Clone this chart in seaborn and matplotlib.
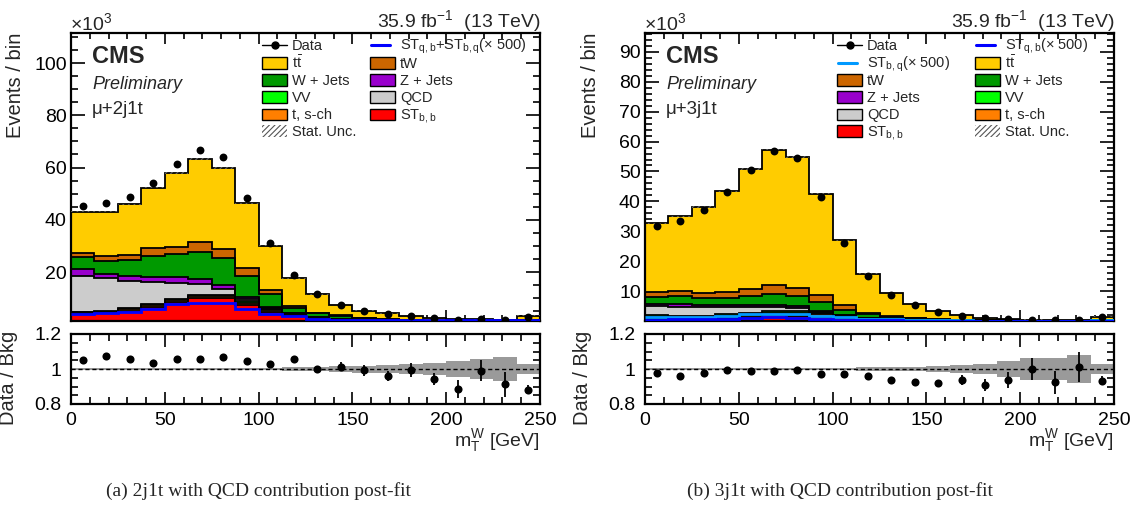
import numpy as np
import matplotlib
matplotlib.use("Agg")
import matplotlib.pyplot as plt
from matplotlib.patches import Rectangle
from matplotlib.lines import Line2D
from matplotlib.ticker import MultipleLocator, FixedLocator
import seaborn as sns

# ---------------- data (events in units of 10^3) ----------------
edges = np.linspace(0, 250, 21)
centers = 0.5 * (edges[:-1] + edges[1:])

# mu + 2j1t
L_stbb = [4.3, 4.4, 5.2, 6.7, 8.7, 10.2, 10.0, 7.3, 4.8, 3.6, 2.1, 1.6, 1.2, 0.9, 0.7, 0.55, 0.45, 0.4, 0.35, 0.7]
L_tsch = [0.3, 0.4, 0.6, 0.6, 0.6, 0.7, 0.8, 0.9, 0.7, 0.4, 0.3, 0.2, 0.15, 0.1, 0.08, 0.06, 0.05, 0.05, 0.04, 0.08]
L_vv = [0.2, 0.3, 0.4, 0.4, 0.3, 0.3, 0.4, 0.6, 0.4, 0.2, 0.2, 0.15, 0.1, 0.1, 0.08, 0.06, 0.05, 0.05, 0.04, 0.08]
L_qcd = [13.8, 12.6, 10.5, 8.4, 6.1, 4.1, 2.2, 0.8, 0.2, 0.05, 0.05, 0.02, 0.02, 0.02, 0.02, 0.01, 0.01, 0.01, 0.01, 0.02]
L_zj = [2.5, 1.6, 1.9, 2.1, 2.3, 1.9, 1.6, 1.0, 0.6, 0.05, 0.05, 0.03, 0.03, 0.03, 0.02, 0.02, 0.01, 0.01, 0.01, 0.02]
L_wj = [4.5, 5.0, 5.9, 8.1, 8.9, 10.6, 10.3, 7.9, 4.9, 2.1, 1.5, 1.2, 0.9, 0.7, 0.55, 0.45, 0.35, 0.33, 0.28, 0.6]
L_tw = [1.8, 2.0, 2.1, 2.8, 2.8, 3.8, 3.4, 2.9, 1.5, 0.6, 0.3, 0.2, 0.15, 0.12, 0.1, 0.08, 0.06, 0.06, 0.05, 0.1]
L_tt = [15.7, 16.8, 19.3, 23.2, 28.3, 31.7, 31.2, 24.9, 17.0, 10.7, 7.0, 4.0, 2.65, 2.23, 1.65, 1.27, 1.02, 0.99, 0.82, 1.7]
L_data = [45.3, 46.4, 48.6, 54.0, 61.3, 66.9, 64.0, 48.5, 31.0, 18.7, 11.5, 7.49, 5.16, 4.04, 3.19, 2.36, 1.77, 1.88, 1.46, 2.91]
L_sig = [3.8, 4.2, 4.6, 5.7, 7.7, 8.3, 8.0, 5.9, 4.0, 3.2, 1.9, 1.8, 1.8, 1.8, 1.8, 1.8, 1.8, 1.8, 1.8, 1.8]
L_band = [0.005, 0.005, 0.005, 0.005, 0.005, 0.005, 0.005, 0.006, 0.007, 0.01, 0.013, 0.017, 0.02, 0.025, 0.028, 0.034, 0.043, 0.055, 0.07, 0.03]
L_rerr = [0.004, 0.004, 0.004, 0.004, 0.004, 0.004, 0.004, 0.004, 0.005, 0.006, 0.008, 0.025, 0.03, 0.028, 0.04, 0.035, 0.05, 0.06, 0.07, 0.025]

# mu + 3j1t
R_stbb = [0.8, 0.8, 0.8, 1.1, 1.4, 1.9, 1.8, 1.5, 0.9, 0.5, 0.3, 0.2, 0.12, 0.08, 0.05, 0.04, 0.03, 0.03, 0.02, 0.06]
R_tsch = [0.6, 0.5, 0.5, 0.6, 0.7, 0.8, 0.8, 0.7, 0.5, 0.3, 0.2, 0.12, 0.08, 0.05, 0.03, 0.02, 0.015, 0.015, 0.01, 0.04]
R_vv = [0.5, 0.4, 0.4, 0.5, 0.5, 0.6, 0.6, 0.5, 0.4, 0.2, 0.1, 0.08, 0.05, 0.03, 0.02, 0.02, 0.015, 0.015, 0.01, 0.03]
R_qcd = [3.0, 3.0, 3.0, 2.5, 2.1, 1.4, 1.2, 0.2, 0.1, 0.05, 0.03, 0.02, 0.01, 0.01, 0.005, 0.005, 0.003, 0.003, 0.003, 0.01]
R_zj = [0.8, 0.9, 0.7, 0.6, 0.6, 0.6, 0.5, 0.3, 0.2, 0.1, 0.05, 0.03, 0.02, 0.01, 0.005, 0.005, 0.002, 0.002, 0.002, 0.01]
R_wj = [2.3, 2.6, 2.2, 2.5, 2.9, 3.8, 3.3, 3.1, 1.7, 1.2, 0.7, 0.45, 0.3, 0.2, 0.12, 0.09, 0.06, 0.05, 0.04, 0.2]
R_tw = [1.8, 1.8, 1.7, 1.9, 2.6, 2.8, 2.8, 2.3, 1.4, 0.45, 0.25, 0.15, 0.1, 0.06, 0.04, 0.03, 0.02, 0.02, 0.015, 0.06]
R_tt = [22.9, 25.0, 28.8, 33.7, 40.1, 45.4, 43.8, 34.0, 21.8, 13.0, 7.67, 4.55, 2.62, 1.46, 0.83, 0.59, 0.355, 0.32, 0.25, 1.09]
R_data = [31.9, 33.6, 37.2, 43.2, 50.4, 56.7, 54.5, 41.4, 26.2, 15.2, 8.72, 5.2, 3.03, 1.78, 1.0, 0.75, 0.5, 0.42, 0.354, 1.4]
R_sig_qb = [0.5, 0.55, 0.6, 0.8, 1.0, 1.2, 1.1, 0.8, 0.5, 0.3, 0.2, 0.15, 0.1, 0.07, 0.05, 0.04, 0.03, 0.03, 0.02, 0.05]
R_sig_bq = [1.3, 1.4, 1.5, 1.8, 2.2, 2.5, 2.4, 1.8, 1.2, 0.8, 0.55, 0.4, 0.3, 0.2, 0.15, 0.12, 0.1, 0.09, 0.08, 0.2]
R_band = [0.005, 0.005, 0.005, 0.005, 0.005, 0.005, 0.005, 0.006, 0.007, 0.009, 0.011, 0.014, 0.018, 0.022, 0.03, 0.043, 0.065, 0.065, 0.082, 0.03]
R_rerr = [0.004, 0.004, 0.004, 0.004, 0.004, 0.004, 0.004, 0.004, 0.004, 0.006, 0.01, 0.012, 0.02, 0.03, 0.034, 0.048, 0.065, 0.065, 0.085, 0.025]

# ---------------- style ----------------
sns.set_style("ticks")
plt.rcParams["font.family"] = ["Liberation Sans", "DejaVu Sans"]
plt.rcParams["mathtext.fontset"] = "custom"
plt.rcParams["mathtext.rm"] = "Liberation Sans"
plt.rcParams["mathtext.it"] = "Liberation Sans:italic"
plt.rcParams["mathtext.bf"] = "Liberation Sans:bold"
plt.rcParams["hatch.linewidth"] = 0.8

C = {
    "tt": "#ffcc00", "tw": "#cc6600", "wj": "#009900", "zj": "#9900cc",
    "vv": "#00ff00", "qcd": "#cccccc", "tsch": "#ff7f00", "stbb": "#ff0000",
    "sig": "#0000ff", "sig2": "#0099ff",
}

W, H = 1138, 514
fig = plt.figure(figsize=(W / 100, H / 100), dpi=100)


def fx(x):
    return x / W


def fy(y):
    return 1 - y / H


def add_ax(x0, y0, x1, y1):
    return fig.add_axes([fx(x0), fy(y1), (x1 - x0) / W, (y1 - y0) / H])


def stepy(v):
    v = np.asarray(v, float)
    return np.append(v, v[-1])


def style_axis(ax, xmaj=8, xmin=4, ymaj=10, ymin=5):
    for s in ax.spines.values():
        s.set_linewidth(1.6)
        s.set_color("black")
    ax.tick_params(which="both", direction="in", top=True, right=True,
                   width=1.2, labelsize=14, colors="black")
    ax.tick_params(axis="x", which="major", length=xmaj)
    ax.tick_params(axis="x", which="minor", length=xmin)
    ax.tick_params(axis="y", which="major", length=ymaj)
    ax.tick_params(axis="y", which="minor", length=ymin)
    ax.xaxis.set_major_locator(MultipleLocator(50))
    ax.xaxis.set_minor_locator(MultipleLocator(10))
    ax.set_xlim(0, 250)


LEG_FS = 10.5


def legend_entry(kind, hx, y, color, label):
    if kind == "patch":
        fig.add_artist(Rectangle((fx(hx), fy(y + 5.5)), 25 / W, 11 / H, transform=fig.transFigure,
                                 facecolor=color, edgecolor="black", lw=1.0))
    elif kind == "hatch":
        fig.add_artist(Rectangle((fx(hx), fy(y + 5.5)), 25 / W, 11 / H, transform=fig.transFigure,
                                 facecolor="white", edgecolor="#555555", lw=0, hatch="//////"))
    elif kind == "data":
        fig.add_artist(Line2D([fx(hx), fx(hx + 25)], [fy(y), fy(y)], transform=fig.transFigure,
                              color="black", lw=1.0))
        fig.add_artist(Line2D([fx(hx + 12.5)], [fy(y)], transform=fig.transFigure, marker="o",
                              ms=5, color="black", lw=0))
    elif kind == "line":
        fig.add_artist(Line2D([fx(hx + 1), fx(hx + 20)], [fy(y), fy(y)], transform=fig.transFigure,
                              color=color, lw=2.2))
    fig.text(fx(hx + 30), fy(y + 5), label, fontsize=LEG_FS, ha="left", va="baseline")


def panel(x0, x1, comps, data, sig_lines, band, rerr, ylim, ymajor, yminor, region, legend):
    ax = add_ax(x0, 33, x1, 321)
    rx = add_ax(x0, 334, x1, 404)
    cum = np.zeros(len(centers))
    tops = []
    for vals, col in comps:
        top = cum + np.asarray(vals, float)
        ax.stairs(top, edges, baseline=cum, fill=True, color=col, lw=0, zorder=2)
        tops.append(top)
        cum = top
    for top in tops:
        ax.stairs(top, edges, baseline=None, fill=False, color="black", lw=1.3, zorder=3)
    tot = cum
    band = np.asarray(band)
    unc = band * tot
    ax.fill_between(edges, stepy(tot - unc), stepy(tot + unc), step="post", facecolor="none",
                    edgecolor="#666666", hatch="//////", lw=0, zorder=4)
    for vals, col in sig_lines:
        ax.stairs(vals, edges, baseline=None, fill=False, color=col, lw=2.0, zorder=5)
    sns.scatterplot(x=centers, y=data, ax=ax, color="black", s=32, linewidth=0, zorder=10, legend=False)
    style_axis(ax)
    ax.set_ylim(*ylim)
    ax.yaxis.set_major_locator(FixedLocator(ymajor))
    ax.yaxis.set_minor_locator(MultipleLocator(yminor))
    ax.set_yticklabels([str(v) for v in ymajor])
    ax.tick_params(axis="x", labelbottom=False)
    ax.tick_params(axis="y", pad=3)
    ax.set_xlabel("")
    ax.set_ylabel("")

    # ratio
    ratio = np.asarray(data) / tot
    rx.fill_between(edges, stepy(1 - band), stepy(1 + band), step="post", color="#9a9a9a", lw=0, zorder=1)
    rx.axhline(1.0, ls="--", color="black", lw=1.0, zorder=2, dashes=(3, 2))
    rx.errorbar(centers, ratio, yerr=rerr, fmt="none", ecolor="black", elinewidth=1.3, zorder=3)
    sns.scatterplot(x=centers, y=ratio, ax=rx, color="black", s=34, linewidth=0, zorder=10, legend=False)
    style_axis(rx, xmaj=9, xmin=5, ymaj=10, ymin=5)
    rx.set_ylim(0.8, 1.2)
    rx.yaxis.set_major_locator(FixedLocator([0.8, 1.0, 1.2]))
    rx.yaxis.set_minor_locator(MultipleLocator(0.05))
    rx.set_yticklabels(["0.8", "1", "1.2"])
    rx.tick_params(axis="y", pad=7)
    rx.tick_params(axis="x", pad=6)
    rx.set_xlabel("")
    rx.set_ylabel("")

    # texts
    fig.text(fx(x0 - 1), fy(30), r"$\times$10$^{3}$", fontsize=14, ha="left", va="baseline")
    fig.text(fx(x1), fy(27), r"35.9 fb$^{-1}$  (13 TeV)", fontsize=14, ha="right", va="baseline")
    fig.text(fx(x0 + 21), fy(63), "CMS", fontsize=17, fontweight="bold", ha="left", va="baseline")
    fig.text(fx(x0 + 21), fy(89), "Preliminary", fontsize=13, fontstyle="italic", ha="left", va="baseline")
    fig.text(fx(x0 + 21), fy(114), region, fontsize=13.5, ha="left", va="baseline")
    fig.text(fx(x0 - 55), fy(33), "Events / bin", fontsize=14.5, rotation=90, ha="center", va="top")
    fig.text(fx(x0 - 62), fy(378), "Data / Bkg", fontsize=14.5, rotation=90, ha="center", va="center")
    fig.text(fx(x1), fy(446), r"m$_{\mathrm{T}}^{\mathrm{W}}$ [GeV]", fontsize=14, ha="right", va="baseline")

    rows = [45, 63, 80, 97, 114, 131]
    for (kind, col, label, hx, r) in legend:
        legend_entry(kind, hx, rows[r], col, label)
    return ax, rx


tt_lbl = r"$\mathrm{t\bar{t}}$"
legL = [
    ("data", None, "Data", 262, 0),
    ("patch", C["tt"], tt_lbl, 262, 1),
    ("patch", C["wj"], "W + Jets", 262, 2),
    ("patch", C["vv"], "VV", 262, 3),
    ("patch", C["tsch"], "t, s-ch", 262, 4),
    ("hatch", None, "Stat. Unc.", 262, 5),
    ("line", C["sig"], r"ST$_{\mathrm{q,b}}$+ST$_{\mathrm{b,q}}$(× 500)", 370, 0),
    ("patch", C["tw"], "tW", 370, 1),
    ("patch", C["zj"], "Z + Jets", 370, 2),
    ("patch", C["qcd"], "QCD", 370, 3),
    ("patch", C["stbb"], r"ST$_{\mathrm{b,b}}$", 370, 4),
]
legR = [
    ("data", None, "Data", 837, 0),
    ("line", C["sig2"], r"ST$_{\mathrm{b,q}}$(× 500)", 837, 1),
    ("patch", C["tw"], "tW", 837, 2),
    ("patch", C["zj"], "Z + Jets", 837, 3),
    ("patch", C["qcd"], "QCD", 837, 4),
    ("patch", C["stbb"], r"ST$_{\mathrm{b,b}}$", 837, 5),
    ("line", C["sig"], r"ST$_{\mathrm{q,b}}$(× 500)", 975, 0),
    ("patch", C["tt"], tt_lbl, 975, 1),
    ("patch", C["wj"], "W + Jets", 975, 2),
    ("patch", C["vv"], "VV", 975, 3),
    ("patch", C["tsch"], "t, s-ch", 975, 4),
    ("hatch", None, "Stat. Unc.", 975, 5),
]

compsL = [(L_stbb, C["stbb"]), (L_tsch, C["tsch"]), (L_vv, C["vv"]), (L_qcd, C["qcd"]),
          (L_zj, C["zj"]), (L_wj, C["wj"]), (L_tw, C["tw"]), (L_tt, C["tt"])]
compsR = [(R_stbb, C["stbb"]), (R_tsch, C["tsch"]), (R_vv, C["vv"]), (R_qcd, C["qcd"]),
          (R_zj, C["zj"]), (R_wj, C["wj"]), (R_tw, C["tw"]), (R_tt, C["tt"])]

panel(71, 540, compsL, L_data, [(L_sig, C["sig"])], L_band, L_rerr,
      (1.26, 111.5), [20, 40, 60, 80, 100], 5, "μ+2j1t", legL)
panel(645, 1114, compsR, R_data, [(R_sig_bq, C["sig2"]), (R_sig_qb, C["sig"])], R_band, R_rerr,
      (0.0, 96.3), [10, 20, 30, 40, 50, 60, 70, 80, 90], 2, "μ+3j1t", legR)

fig.text(fx(258), fy(496), "(a) 2j1t with QCD contribution post-fit", fontsize=14,
         family=["Liberation Serif", "DejaVu Serif"], ha="center", va="baseline")
fig.text(fx(840), fy(496), "(b) 3j1t with QCD contribution post-fit", fontsize=14,
         family=["Liberation Serif", "DejaVu Serif"], ha="center", va="baseline")

fig.savefig("out.png", dpi=100)
